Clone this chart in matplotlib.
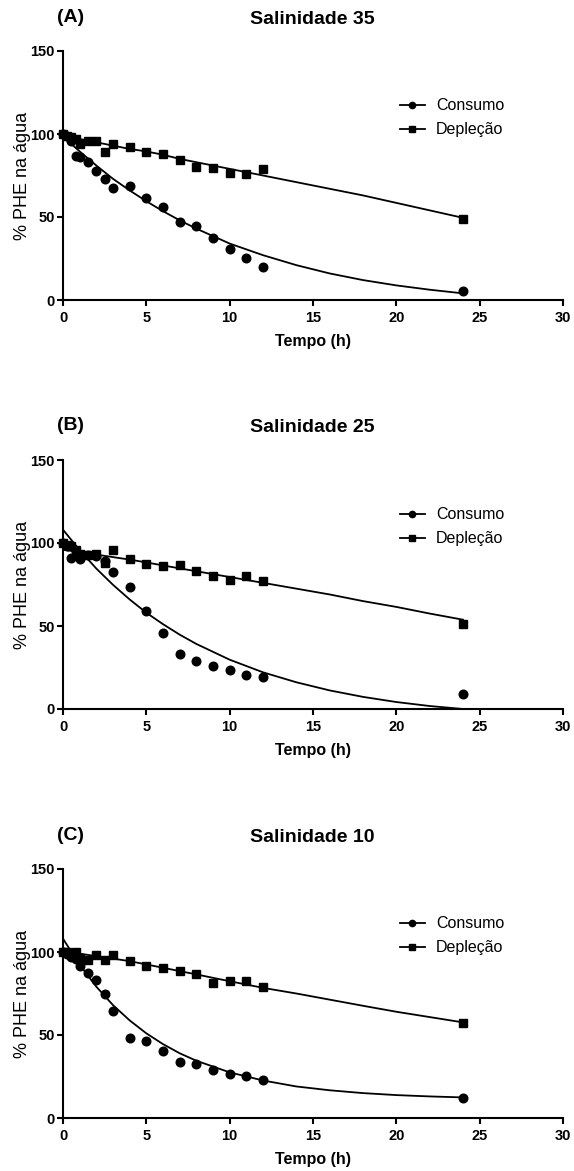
import matplotlib
matplotlib.use('Agg')
from matplotlib import pyplot as plt
from matplotlib.lines import Line2D

plt.rcParams['font.family'] = ['Liberation Sans', 'DejaVu Sans']

# tempos de coleta (h)
tempo = [0, 0.25, 0.5, 0.75, 1, 1.5, 2, 2.5, 3, 4, 5, 6, 7, 8, 9, 10, 11, 12, 24]

# salinidade 35
consumo_35 = [100, 99, 96, 87, 86, 83, 77.7, 72.9, 67.7, 68.7, 61.4, 55.8, 47.2, 44.6, 37.5, 30.7, 25.3, 20.1, 5.6]
deplecao_35 = [100, 99, 98, 97, 94, 95.8, 96, 89.3, 94, 92, 89.3, 87.8, 84.3, 80.3, 79.3, 76.7, 75.9, 78.7, 49]
# salinidade 25
consumo_25 = [100, 98, 91, 95, 90.4, 93, 92, 89, 82.5, 73.3, 58.8, 45.8, 33.3, 28.7, 25.7, 23.3, 20.7, 19.3, 9.2]
deplecao_25 = [100, 99, 98, 96, 93.5, 93, 93.5, 88, 95.5, 90.4, 87.3, 86.3, 86.9, 82.9, 79.9, 77.9, 79.9, 76.9, 51.2]
# salinidade 10
consumo_10 = [100, 99, 97, 96, 91.6, 87.6, 83.4, 75, 64.4, 48, 46.6, 40.6, 34, 32.6, 29, 26.6, 25.6, 22.6, 12]
deplecao_10 = [100, 100, 99, 100, 96.4, 95, 98, 95, 98, 94.4, 91.6, 90.4, 88.4, 86.6, 81.4, 82.6, 82.6, 79, 57]

# curvas ajustadas
t_ajuste = [0, 1, 2, 3, 4, 5, 6, 7, 8, 10, 12, 14, 16, 18, 20, 22, 24]
aj_consumo_35 = [98.5, 89.5, 81, 73, 66, 59.5, 53.5, 48, 43, 34, 27, 21, 16, 12, 8.8, 6.2, 4]
aj_deplecao_35 = [99, 97, 95, 93, 91, 89.5, 87.5, 85, 83, 79, 75, 71, 67, 63, 58.5, 54, 49.5]
aj_consumo_25 = [108, 95.7, 84.6, 74.8, 66, 58, 51.1, 44.8, 39.2, 29.7, 22.1, 16.1, 11.2, 7.3, 4.2, 1.8, 0]
aj_deplecao_25 = [96, 94.5, 93, 91.5, 90, 88.3, 86.5, 84.7, 83, 79.5, 76, 72.5, 69, 65, 61.5, 57.5, 53.8]
aj_consumo_10 = [108, 92.3, 79.1, 68, 58.8, 51, 44.5, 39, 34.5, 27.5, 22.6, 19, 16.7, 15, 13.8, 13, 12.4]
aj_deplecao_10 = [100, 99, 97.5, 96, 94.5, 92.5, 90.5, 88.5, 86.5, 82.4, 78.4, 75, 71.3, 67.6, 64, 60.8, 57.6]

paineis = ['(A)', '(B)', '(C)']
titulos = ['Salinidade 35', 'Salinidade 25', 'Salinidade 10']

W, H = 574, 1171
fig = plt.figure(figsize=(W/100, H/100), dpi=100)

def fx(px):
	return px/W

def fy(py):
	return 1 - py/H

def painel(topo, letra, titulo, cons, depl, aj_cons, aj_depl):
	base = topo + 249
	ax = fig.add_axes([fx(63), fy(base), fx(500), 249/H])
	ax.plot(t_ajuste, aj_cons, color='black', lw=1.3)
	ax.plot(t_ajuste, aj_depl, color='black', lw=1.3)
	ax.plot(tempo, cons, 'o', color='black', ms=6.2, clip_on=False, zorder=3)
	ax.plot(tempo, depl, 's', color='black', ms=6.3, clip_on=False, zorder=3)
	ax.set_xlim(0, 30)
	ax.set_ylim(0, 150)
	ax.set_xticks(range(0, 31, 5))
	ax.set_yticks([0, 50, 100, 150])
	for s in ['top', 'right']:
		ax.spines[s].set_visible(False)
	for s in ['left', 'bottom']:
		ax.spines[s].set_linewidth(1.5)
	ax.tick_params(width=1.5, length=4.5, labelsize=10.5)
	ax.tick_params(axis='x', pad=3.5)
	ax.tick_params(axis='y', pad=1.5)
	for lb in ax.get_xticklabels() + ax.get_yticklabels():
		lb.set_fontweight('bold')
	ax.set_xlabel('Tempo (h)', fontsize=11.5, fontweight='bold')
	ax.xaxis.set_label_coords(0.5, -0.135)
	ax.set_ylabel('% PHE na água', fontsize=13)
	ax.yaxis.set_label_coords(-0.064, 0.5)

	hs = [Line2D([], [], color='black', lw=1.3, marker='o', ms=4.5),
		  Line2D([], [], color='black', lw=1.3, marker='s', ms=4.5)]
	ax.legend(hs, ['Consumo', 'Depleção'], loc='upper left', bbox_to_anchor=(0.674, 0.81),
			  frameon=False, fontsize=11.5, handlelength=1.55, handletextpad=0.7,
			  labelspacing=0.55, borderpad=0, borderaxespad=0)

	fig.text(fx(71), fy(topo - 34), letra, fontsize=14, fontweight='bold', ha='center', va='center')
	fig.text(fx(312), fy(topo - 32), titulo, fontsize=14, fontweight='bold', ha='center', va='center')
	return ax

painel(51, paineis[0], titulos[0], consumo_35, deplecao_35, aj_consumo_35, aj_deplecao_35)
painel(460, paineis[1], titulos[1], consumo_25, deplecao_25, aj_consumo_25, aj_deplecao_25)
painel(869, paineis[2], titulos[2], consumo_10, deplecao_10, aj_consumo_10, aj_deplecao_10)

plt.savefig('out.png', dpi=100)
